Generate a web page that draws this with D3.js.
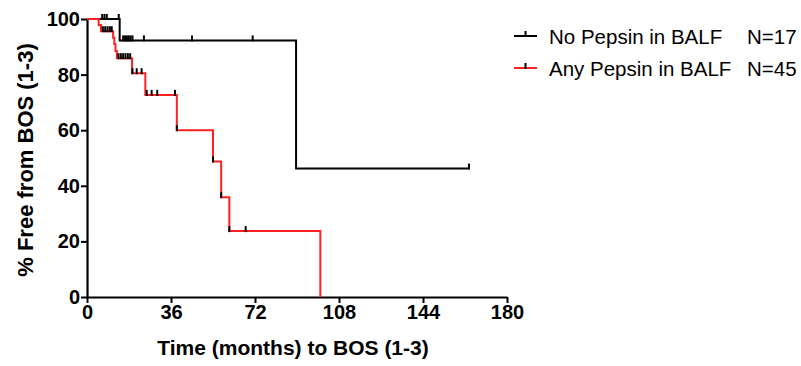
<!DOCTYPE html>
<html>
<head>
<meta charset="utf-8">
<script src="https://cdn.jsdelivr.net/npm/d3@7"></script>
<style>
body { margin: 0; background: #fff; }
text { font-family: Arial, "Liberation Sans", sans-serif; }
</style>
</head>
<body>
<script>
// Tick labels
var xTicks = [0, 36, 72, 108, 144, 180];
var yTicks = [0, 20, 40, 60, 80, 100];

// No Pepsin in BALF (N=17): step times and survival levels
var noTimes = [0, 14, 89.6];
var noSurv = [100, 92.3, 46.2];
var noEnd = 163.7;
var noCensor = [6.5, 7.5, 8.5, 13.6, 15.5, 16.3, 17.1, 17.9, 18.7, 19.5, 24.4, 45, 71, 163.7];

// Any Pepsin in BALF (N=45)
var anyTimes = [0, 5, 6, 11.2, 11.7, 12.2, 12.8, 19.3, 25, 38.5, 54, 57.5, 61, 100];
var anySurv = [100, 97.8, 95.6, 93.3, 91, 88.5, 85.9, 80.5, 72.7, 60, 48.7, 35.9, 23.7, 0];
var anyEnd = 100;
var anyCensor = [6.8, 7.8, 8.8, 9.8, 10.6, 13.5, 14.5, 15.5, 16.5, 17.5, 18.5, 19.5, 21.3, 23.4,
                 25.6, 27.7, 30.1, 37.7, 38.5, 54, 57.5, 61, 68];

var seriesNames = ["No Pepsin in BALF", "Any Pepsin in BALF"];
var seriesN = ["N=17", "N=45"];
var seriesColors = ["#000000", "#ff2020"];

var w = 801, h = 366;

var svg = d3.select("body").append("svg")
    .attr("width", w)
    .attr("height", h);

var x = d3.scaleLinear().domain([0, 180]).range([87, 507]);
var y = d3.scaleLinear().domain([0, 100]).range([297, 19]);

// step lookup: level at time t (after any event at t)
function levelAt(times, surv, t) {
    var v = surv[0];
    for (var i = 0; i < times.length; i++) {
        if (times[i] <= t) v = surv[i];
    }
    return v;
}

var curves = [
    {times: noTimes, surv: noSurv, end: noEnd, censor: noCensor, color: seriesColors[0]},
    {times: anyTimes, surv: anySurv, end: anyEnd, censor: anyCensor, color: seriesColors[1]}
];

var line = d3.line()
    .x(d => x(d[0]))
    .y(d => y(d[1]))
    .curve(d3.curveStepAfter);

// axes
var yAxis = svg.append("g")
    .attr("transform", "translate(87,0)")
    .call(d3.axisLeft(y).tickValues(yTicks).tickSize(6).tickSizeOuter(0).tickPadding(1));

var xAxis = svg.append("g")
    .attr("transform", "translate(0,297)")
    .call(d3.axisBottom(x).tickValues(xTicks).tickSize(6).tickSizeOuter(0).tickPadding(2));

[xAxis, yAxis].forEach(function(g) {
    g.select(".domain").attr("stroke-width", 2.2);
    g.selectAll(".tick line").attr("stroke-width", 2);
    g.selectAll(".tick text")
        .style("font-size", "20px")
        .style("font-weight", "bold")
        .attr("fill", "#000");
});

// curves
curves.forEach(function(c) {
    var pts = c.times.map((t, i) => [t, c.surv[i]]);
    pts.push([c.end, c.surv[c.surv.length - 1]]);
    svg.append("path")
        .attr("d", line(pts))
        .attr("fill", "none")
        .attr("stroke", c.color)
        .attr("stroke-width", 2);
});

// censor ticks (black)
curves.forEach(function(c) {
    svg.append("g").selectAll("line")
        .data(c.censor)
        .enter().append("line")
        .attr("x1", d => x(d))
        .attr("x2", d => x(d))
        .attr("y1", d => y(levelAt(c.times, c.surv, d)) - 5)
        .attr("y2", d => y(levelAt(c.times, c.surv, d)) + 1)
        .attr("stroke", "#000")
        .attr("stroke-width", 2);
});

// axis titles
svg.append("text")
    .attr("x", 293)
    .attr("y", 355)
    .attr("text-anchor", "middle")
    .style("font-size", "21px")
    .style("font-weight", "bold")
    .text("Time (months) to BOS (1-3)");

svg.append("text")
    .attr("transform", "translate(33,160) rotate(-90)")
    .attr("text-anchor", "middle")
    .style("font-size", "22px")
    .style("font-weight", "bold")
    .text("% Free from BOS (1-3)");

// legend
var legend = svg.append("g").selectAll("g")
    .data(seriesNames)
    .enter().append("g")
    .attr("transform", (d, i) => "translate(0," + (36 + i * 32) + ")");

legend.append("line")
    .attr("x1", 514).attr("x2", 537)
    .attr("y1", 0).attr("y2", 0)
    .attr("stroke", (d, i) => seriesColors[i])
    .attr("stroke-width", 2);

legend.append("line")
    .attr("x1", 525.5).attr("x2", 525.5)
    .attr("y1", -5).attr("y2", 1)
    .attr("stroke", "#000")
    .attr("stroke-width", 2);

legend.append("text")
    .attr("x", 549)
    .attr("y", 8)
    .style("font-size", "20.5px")
    .text(d => d);

legend.append("text")
    .attr("x", 747)
    .attr("y", 8)
    .style("font-size", "20.5px")
    .text((d, i) => seriesN[i]);
</script>
</body>
</html>
